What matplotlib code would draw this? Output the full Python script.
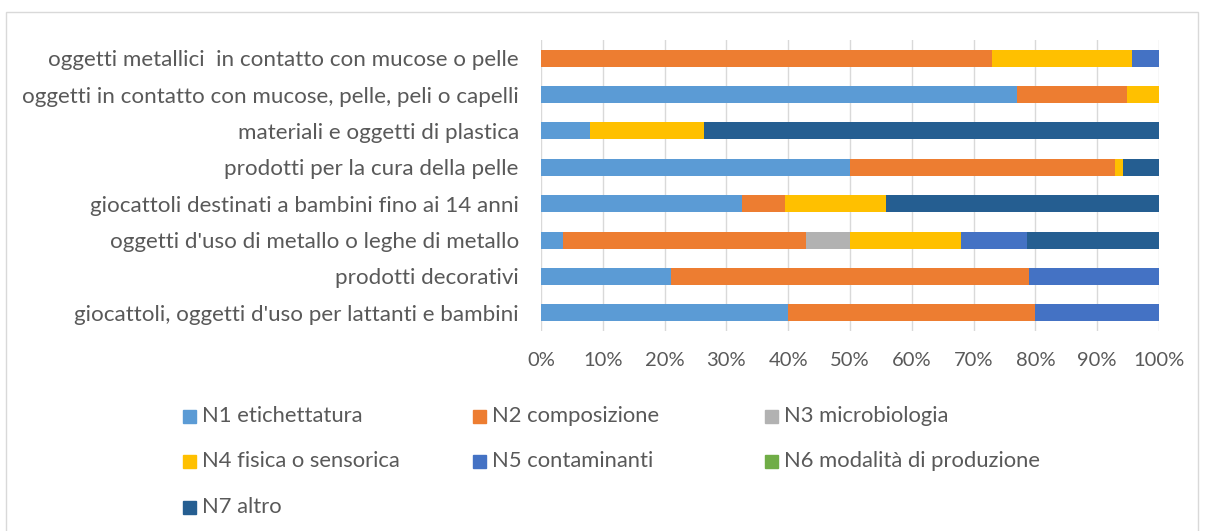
import matplotlib.pyplot as plt
from matplotlib.patches import Rectangle

categories = [
    "giocattoli, oggetti d'uso per lattanti e bambini",
    "prodotti decorativi",
    "oggetti d'uso di metallo o leghe di metallo",
    "giocattoli destinati a bambini fino ai 14 anni",
    "prodotti per la cura della pelle",
    "materiali e oggetti di plastica",
    "oggetti in contatto con mucose, pelle, peli o capelli",
    "oggetti metallici  in contatto con mucose o pelle",
]

series = ["N1 etichettatura", "N2 composizione", "N3 microbiologia",
          "N4 fisica o sensorica", "N5 contaminanti",
          "N6 modalità di produzione", "N7 altro"]

# percentage per category (same order as categories)
n1 = [40.0, 21.0, 3.6, 32.5, 50.0, 7.9, 77.1, 0.0]
n2 = [40.0, 58.0, 39.2, 7.0, 42.9, 0.0, 17.8, 73.0]
n3 = [0.0, 0.0, 7.2, 0.0, 0.0, 0.0, 0.0, 0.0]
n4 = [0.0, 0.0, 17.9, 16.3, 1.2, 18.4, 5.1, 22.6]
n5 = [20.0, 21.0, 10.8, 0.0, 0.0, 0.0, 0.0, 4.4]
n6 = [0.0, 0.0, 0.0, 0.0, 0.0, 0.0, 0.0, 0.0]
n7 = [0.0, 0.0, 21.3, 44.2, 5.9, 73.7, 0.0, 0.0]

colors = ["#5B9BD5", "#ED7D31", "#B2B2B2", "#FFC000", "#4472C4", "#70AD47", "#255E91"]

TXT = "#595959"
FONT = "Lato"


def fit_size(fig, text, target_px):
    # font size that makes text about target_px wide
    t = fig.text(0, 0, text, fontsize=10, fontfamily=FONT)
    w = t.get_window_extent(renderer=fig.canvas.get_renderer()).width
    t.remove()
    return 10 * target_px / w


def main():
    W, H = 1206, 531
    fig = plt.figure(figsize=(W / 100, H / 100), dpi=100)
    ax = fig.add_axes([541 / W, 1 - 331 / H, 618 / W, 291 / H])

    fs_lab = fit_size(fig, categories[6], 495)
    fs_tick = fit_size(fig, "100%", 51)
    fs_leg = fit_size(fig, series[5], 258)

    data = [n1, n2, n3, n4, n5, n6, n7]
    y = range(len(categories))
    left = [0.0] * len(categories)
    for vals, col, name in zip(data, colors, series):
        ax.barh(y, vals, left=left, height=0.47, color=col, label=name, zorder=3)
        left = [a + b for a, b in zip(left, vals)]

    ax.set_xlim(0, 100)
    ax.set_ylim(-0.5, len(categories) - 0.5)
    ax.set_xticks(range(0, 101, 10))
    ax.set_xticklabels([f"{v}%" for v in range(0, 101, 10)],
                       fontfamily=FONT, fontsize=fs_tick, color=TXT)
    ax.set_yticks(list(y))
    ax.set_yticklabels(categories, fontfamily=FONT, fontsize=fs_lab, color=TXT)
    ax.tick_params(length=0)
    ax.tick_params(axis="x", pad=15)
    ax.tick_params(axis="y", pad=16)
    ax.grid(axis="x", color="#D9D9D9", linewidth=1, zorder=0)
    for s in ax.spines.values():
        s.set_visible(False)

    # legend, row-major like the original
    xs = [183, 473, 765]
    ys = [416, 461, 507]
    for i, (name, col) in enumerate(zip(series, colors)):
        px, py = xs[i % 3], ys[i // 3]
        fig.patches.append(Rectangle((px / W, 1 - (py + 6.5) / H), 13 / W, 13 / H,
                                     transform=fig.transFigure, color=col, figure=fig))
        fig.text((px + 19) / W, 1 - py / H, name, fontfamily=FONT, fontsize=fs_leg,
                 color=TXT, va="center", ha="left")

    # chart border
    fig.patches.append(Rectangle((6 / W, -0.01), 1192 / W, 1 - 12 / H + 0.01,
                                 transform=fig.transFigure, fill=False,
                                 edgecolor="#D9D9D9", linewidth=1, figure=fig))

    fig.savefig("out.png", dpi=100)


if __name__ == "__main__":
    main()
